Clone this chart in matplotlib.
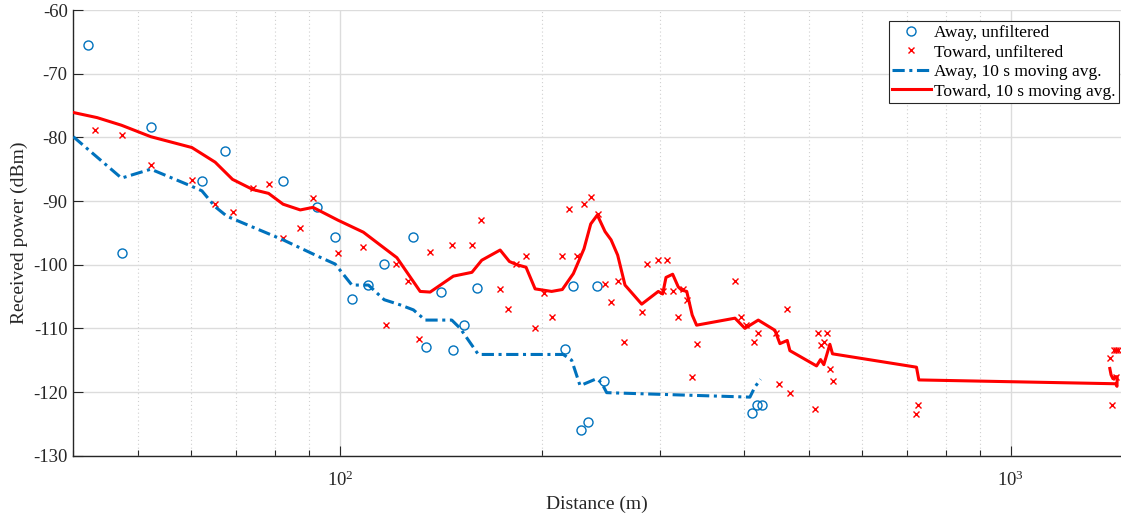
import numpy as np
import matplotlib
matplotlib.use("Agg")
import matplotlib.pyplot as plt
from matplotlib.ticker import LogLocator, LogFormatterMathtext, NullFormatter, MultipleLocator

plt.rcParams['font.family'] = ['Liberation Serif', 'DejaVu Serif']
plt.rcParams['mathtext.fontset'] = 'custom'
plt.rcParams['mathtext.rm'] = 'Liberation Serif'
plt.rcParams['mathtext.it'] = 'Liberation Serif:italic'
plt.rcParams['axes.unicode_minus'] = False

# away, unfiltered samples
away_dist = [42.1, 47.2, 52.2, 62.2, 67.25, 82.2, 92.3, 98.3, 104.1, 110.2, 116.2,
             128.2, 134.3, 141.3, 147.2, 153.2, 160.2, 216.4, 222.3, 228.5, 234.2,
             241.3, 247.4, 410.7, 417.8, 425.0]
away_pow = [-65.5, -98.2, -78.3, -86.9, -82.2, -86.9, -91.0, -95.6, -105.4, -103.2, -99.9,
            -95.6, -113.0, -104.3, -113.4, -109.5, -103.6, -113.2, -103.3, -126.0, -124.7,
            -103.3, -118.2, -123.3, -122.1, -122.1]

# toward, unfiltered samples
toward_dist = [43.1, 47.2, 52.2, 60.1, 65.1, 69.1, 74.1, 78.2, 82.2, 87.2, 91.1, 99.2,
               108.3, 117.1, 121.2, 126.4, 131.3, 136.2, 147.0, 157.5, 162.3, 173.2,
               178.2, 183.1, 189.3, 195.3, 201.4, 207.2, 214.4, 219.4, 225.3, 231.2,
               236.4, 242.1, 248.5, 253.5, 259.3, 265.3, 281.6, 286.5, 297.5, 302.6,
               307.5, 313.2, 318.6, 324.2, 329.4, 334.4, 340.4, 388.2, 395.4, 402.3,
               414.0, 420.2, 446.0, 451.6, 464.2, 468.4, 510.4, 516.3, 521.0, 526.3,
               531.3, 537.3, 542.2, 722.5, 728.4, 1404, 1416, 1426, 1433, 1437, 1445]
toward_pow = [-78.8, -79.6, -84.3, -86.7, -90.4, -91.8, -88.0, -87.3, -95.8, -94.3, -89.5, -98.2,
              -97.3, -109.5, -99.9, -102.6, -111.7, -98.0, -96.9, -96.9, -93.0, -103.8,
              -106.9, -99.9, -98.6, -109.9, -104.5, -108.2, -98.6, -91.3, -98.6, -90.4,
              -89.3, -92.0, -103.0, -105.8, -102.5, -112.1, -107.5, -99.9, -99.3, -104.2,
              -99.3, -104.2, -108.2, -103.8, -105.5, -117.7, -112.5, -102.5, -108.2, -109.5,
              -112.1, -110.8, -110.8, -118.8, -106.9, -120.1, -122.7, -110.8, -112.6, -112.1,
              -110.8, -116.4, -118.2, -123.4, -122.1, -114.7, -122.1, -113.4, -117.7, -113.4, -113.4]

# away, 10 s moving average
away_avg_dist = [40, 47.2, 52.2, 60.1, 62.2, 65.1, 67.8, 82.2, 92.3, 98.3, 104.1, 110.2,
                 116.3, 122.8, 128.6, 133.9, 146.7, 151.0, 160.7, 215.1, 221.4, 227.9,
                 241.3, 245.5, 249.7, 408.3, 415.4, 423.6]
away_avg_pow = [-79.9, -86.4, -85.0, -87.7, -88.4, -90.9, -92.4, -96.1, -98.6, -99.9, -103.2, -103.2,
                -105.5, -106.3, -107.1, -108.7, -108.7, -110.0, -114.1, -114.1, -115.0, -119.0,
                -117.9, -118.6, -120.1, -120.8, -119.2, -118.0]

# toward, 10 s moving average
toward_avg_dist = [40, 43.4, 47.2, 52.2, 60.1, 65.1, 69.1, 74.1, 78.2, 82.2, 87.2, 91.1, 99.2,
                   108.3, 114.7, 121.5, 131.6, 136.2, 147.5, 157.2, 162.6, 173.2, 178.8, 183.4,
                   189.3, 195.3, 206.7, 214.4, 222.7, 231.0, 236.4, 241.8, 248.3, 253.5, 259.3,
                   265.9, 281.6, 298.1, 302.6, 306.1, 313.2, 319.3, 323.1, 328.7, 334.9, 340.0,
                   387.9, 401.4, 420.2, 444.9, 452.6, 464.2, 468.4, 513.3, 520.4, 526.3, 537.3,
                   542.2, 723.4, 729.3, 1433, 1440, 1441, 1432, 1420, 1411, 1405]
toward_avg_pow = [-76.1, -76.9, -78.1, -79.9, -81.6, -83.9, -86.6, -88.2, -88.8, -90.5, -91.4, -91.0, -93.0,
                  -94.9, -96.9, -98.9, -104.2, -104.3, -101.8, -101.2, -99.3, -97.7, -99.5, -100.0,
                  -100.4, -103.8, -104.2, -103.9, -101.4, -97.5, -93.6, -92.2, -94.8, -96.1, -98.5,
                  -103.2, -106.2, -104.2, -104.6, -102.0, -101.5, -103.5, -104.0, -104.2, -107.9, -109.5,
                  -108.4, -110.0, -108.7, -110.3, -112.4, -111.9, -113.5, -115.9, -114.9, -115.7, -112.5,
                  -114.0, -116.1, -118.1, -118.7, -119.1, -117.6, -117.6, -117.9, -117.3, -116.3]

blue = '#0072BD'
red = '#FF0000'
axc = '#262626'

fig = plt.figure(figsize=(11.21, 5.19), dpi=100)
ax = fig.add_axes([73.3 / 1121, 63.3 / 519, 1 - 73.3 / 1121, 445.7 / 519])

ax.plot(away_dist, away_pow, 'o', mfc='none', mec=blue, ms=6.5, mew=1.0,
        label='Away, unfiltered', zorder=3)
ax.plot(toward_dist, toward_pow, 'x', color=red, ms=4.5, mew=1.0,
        label='Toward, unfiltered', zorder=3)
ax.plot(away_avg_dist, away_avg_pow, color=blue, lw=2.2, ls=(0, (4, 1.5, 1, 1.5)),
        label='Away, 10 s moving avg.', zorder=4)
ax.plot(toward_avg_dist, toward_avg_pow, '-', color=red, lw=2.2,
        label='Toward, 10 s moving avg.', zorder=4)

ax.set_xscale('log')
ax.set_xlim(40, 1460)
ax.set_ylim(-130, -60)
ax.yaxis.set_major_locator(MultipleLocator(10))
ax.xaxis.set_major_locator(LogLocator(base=10))
ax.xaxis.set_major_formatter(LogFormatterMathtext())
ax.xaxis.set_minor_locator(LogLocator(base=10, subs=np.arange(2, 10)))
ax.xaxis.set_minor_formatter(NullFormatter())

ax.grid(True, which='major', color='#dcdcdc', lw=1.0, ls='-')
ax.grid(True, which='minor', axis='x', color='#d0d0d0', lw=0.8, ls=(0, (1, 2.5)))
ax.set_axisbelow(True)

for s in ['top', 'right']:
    ax.spines[s].set_visible(False)
for s in ['left', 'bottom']:
    ax.spines[s].set_color(axc)
    ax.spines[s].set_linewidth(1.0)

ax.tick_params(which='both', direction='in', colors=axc, labelcolor=axc)
ax.tick_params(which='major', length=7, width=0.8)
ax.tick_params(which='minor', length=4, width=0.8)
ax.tick_params(axis='y', labelsize=13.5, pad=4)
ax.tick_params(axis='x', labelsize=13.5, pad=11)

ax.set_xlabel('Distance (m)', fontsize=14, color=axc)
ax.set_ylabel('Received power (dBm)', fontsize=14, color=axc)
ax.yaxis.set_label_coords(-0.043, 0.5)
ax.xaxis.set_label_coords(0.5, -0.09)

leg = ax.legend(loc='upper right', bbox_to_anchor=(1119 / 1121, 1 - 21 / 519),
                bbox_transform=fig.transFigure, fontsize=12.5, frameon=True,
                fancybox=False, edgecolor=axc, framealpha=1, borderaxespad=0,
                handlelength=2.2, handletextpad=0.2, borderpad=0.2, labelspacing=0.2)
leg.get_frame().set_linewidth(0.8)

fig.savefig('out.png', dpi=100)
